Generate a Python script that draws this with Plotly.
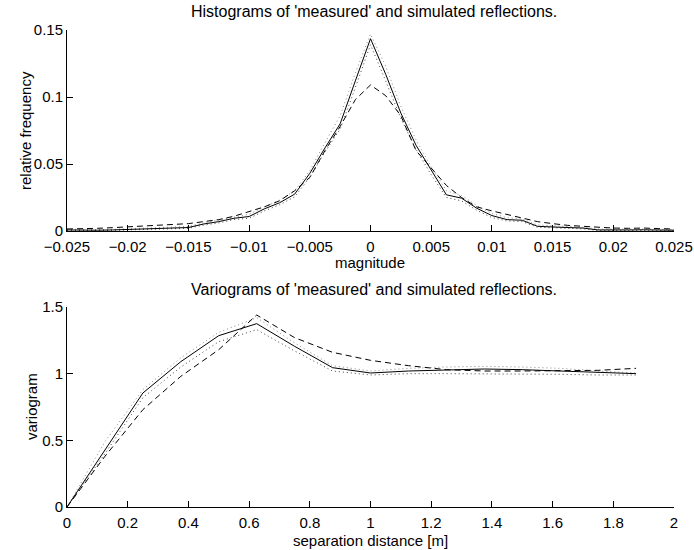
import plotly.graph_objects as go
from plotly.subplots import make_subplots

# ---------------- data ----------------
hist_x = [-0.025, -0.02375, -0.0225, -0.02125, -0.02, -0.01875, -0.0175, -0.01625, -0.015,
          -0.01375, -0.0125, -0.01125, -0.01, -0.00875, -0.0075, -0.00625, -0.005, -0.00375,
          -0.0025, -0.00125, 0.0, 0.00125, 0.0025, 0.00375, 0.005, 0.00625, 0.0075, 0.00875,
          0.01, 0.01125, 0.0125, 0.01375, 0.015, 0.01625, 0.0175, 0.01875, 0.02, 0.02125,
          0.0225, 0.02375, 0.025]
hist_measured = [0.0008, 0.0006, 0.0006, 0.0008, 0.0012, 0.0015, 0.0018, 0.0022, 0.0026,
                 0.0052, 0.0070, 0.0095, 0.0108, 0.0165, 0.0210, 0.0275, 0.0430, 0.0620,
                 0.0800, 0.1120, 0.1435, 0.1170, 0.0880, 0.0640, 0.0450, 0.0270, 0.0245, 0.0170,
                 0.0115, 0.0085, 0.0080, 0.0035, 0.0030, 0.0028, 0.0022, 0.0008, 0.0006, 0.0008,
                 0.0009, 0.0007, 0.0006]
hist_sim_mean = [0.0015, 0.0015, 0.0020, 0.0025, 0.0030, 0.0035, 0.0042, 0.0050, 0.0055,
                 0.0070, 0.0085, 0.0110, 0.0145, 0.0180, 0.0225, 0.0300, 0.0400, 0.0600,
                 0.0780, 0.0980, 0.1090, 0.1010, 0.0860, 0.0600, 0.0470, 0.0340, 0.0250, 0.0180,
                 0.0150, 0.0125, 0.0100, 0.0070, 0.0055, 0.0042, 0.0035, 0.0028, 0.0022, 0.0020,
                 0.0022, 0.0018, 0.0015]
hist_sim_upper = [0.0014, 0.0010, 0.0010, 0.0012, 0.0016, 0.0020, 0.0024, 0.0028, 0.0034,
                  0.0060, 0.0080, 0.0105, 0.0125, 0.0180, 0.0230, 0.0300, 0.0450, 0.0660,
                  0.0860, 0.1180, 0.1470, 0.1230, 0.0930, 0.0680, 0.0480, 0.0300, 0.0265, 0.0190,
                  0.0130, 0.0100, 0.0090, 0.0045, 0.0038, 0.0034, 0.0028, 0.0014, 0.0012, 0.0014,
                  0.0015, 0.0012, 0.0010]
hist_sim_lower = [0.0004, 0.0003, 0.0003, 0.0004, 0.0008, 0.0010, 0.0012, 0.0016, 0.0020,
                  0.0044, 0.0060, 0.0085, 0.0095, 0.0150, 0.0195, 0.0255, 0.0400, 0.0590,
                  0.0760, 0.1070, 0.1390, 0.1120, 0.0840, 0.0610, 0.0420, 0.0250, 0.0225, 0.0155,
                  0.0100, 0.0075, 0.0070, 0.0028, 0.0024, 0.0022, 0.0016, 0.0004, 0.0003, 0.0004,
                  0.0005, 0.0004, 0.0003]

vario_x = [0.0, 0.125, 0.25, 0.375, 0.5, 0.625, 0.75, 0.875, 1.0, 1.125, 1.25, 1.375, 1.5,
           1.625, 1.75, 1.875]
vario_measured = [0.0, 0.43, 0.855, 1.09, 1.285, 1.375, 1.205, 1.045, 1.005, 1.02, 1.03,
                  1.035, 1.03, 1.02, 1.01, 1.0]
vario_sim_mean = [0.0, 0.38, 0.73, 0.98, 1.18, 1.44, 1.27, 1.16, 1.10, 1.06, 1.03, 1.02,
                  1.02, 1.02, 1.025, 1.04]
vario_sim_upper = [0.0, 0.49, 0.88, 1.12, 1.31, 1.42, 1.23, 1.06, 1.02, 1.04, 1.05, 1.055,
                   1.05, 1.04, 1.02, 1.005]
vario_sim_lower = [0.0, 0.40, 0.82, 1.05, 1.24, 1.33, 1.17, 1.02, 0.99, 1.0, 1.0, 1.0,
                   1.0, 0.995, 0.99, 0.99]

hist_xticks = [-0.025, -0.02, -0.015, -0.01, -0.005, 0, 0.005, 0.01, 0.015, 0.02, 0.025]
hist_xtick_text = ["\u22120.025", "\u22120.02", "\u22120.015", "\u22120.01", "\u22120.005", "0",
                   "0.005", "0.01", "0.015", "0.02", "0.025"]
hist_yticks = [0, 0.05, 0.1, 0.15]
hist_ytick_text = ["0", "0.05", "0.1", "0.15"]
vario_xticks = [0, 0.2, 0.4, 0.6, 0.8, 1.0, 1.2, 1.4, 1.6, 1.8, 2.0]
vario_xtick_text = ["0", "0.2", "0.4", "0.6", "0.8", "1", "1.2", "1.4", "1.6", "1.8", "2"]
vario_yticks = [0, 0.5, 1.0, 1.5]
vario_ytick_text = ["0", "0.5", "1", "1.5"]

# ---------------- figure ----------------
W, H = 694, 550
ml, mr, mt, mb = 67, 20, 30, 43
plot_w = W - ml - mr
plot_h = H - mt - mb
top_low = (H - mb - 231) / plot_h
bot_high = (H - mb - 307) / plot_h


def px_x(p):
    return (p - ml) / plot_w


def px_y(p):
    return (H - mb - p) / plot_h


fig = make_subplots(rows=2, cols=1, vertical_spacing=0.0)

FONT = "Liberation Sans, Arial, Helvetica, sans-serif"
FS = 15


def add_set(x, meas, mean, up, lo, row):
    fig.add_trace(go.Scatter(x=x, y=up, mode="lines",
                             line=dict(color="#8a8a8a", width=1, dash="1px,3px"),
                             showlegend=False), row=row, col=1)
    fig.add_trace(go.Scatter(x=x, y=lo, mode="lines",
                             line=dict(color="#444444", width=1, dash="1px,3px"),
                             showlegend=False), row=row, col=1)
    fig.add_trace(go.Scatter(x=x, y=mean, mode="lines",
                             line=dict(color="black", width=1, dash="6px,4px"),
                             showlegend=False), row=row, col=1)
    fig.add_trace(go.Scatter(x=x, y=meas, mode="lines", line=dict(color="black", width=1),
                             showlegend=False), row=row, col=1)


add_set(hist_x, hist_measured, hist_sim_mean, hist_sim_upper, hist_sim_lower, 1)
add_set(vario_x, vario_measured, vario_sim_mean, vario_sim_upper, vario_sim_lower, 2)

axis_common = dict(showline=True, linecolor="black", linewidth=1, mirror=False, ticks="inside",
                   ticklen=6, tickcolor="black", tickwidth=1, showgrid=False, zeroline=False,
                   automargin=False, tickfont=dict(family=FONT, size=FS, color="black"))

fig.update_xaxes(range=[-0.025, 0.025], tickvals=hist_xticks, ticktext=hist_xtick_text,
                 domain=[0, 1], ticklabelstandoff=2, row=1, col=1, **axis_common)
fig.update_yaxes(range=[0, 0.15], tickvals=hist_yticks, ticktext=hist_ytick_text,
                 domain=[top_low, 1], row=1, col=1, **axis_common)
fig.update_xaxes(range=[0, 2], tickvals=vario_xticks, ticktext=vario_xtick_text,
                 domain=[0, 1], ticklabelstandoff=2, row=2, col=1, **axis_common)
fig.update_yaxes(range=[0, 1.5], tickvals=vario_yticks, ticktext=vario_ytick_text,
                 domain=[0, bot_high], row=2, col=1, **axis_common)


def ann(text, xp, yp, angle=0, size=FS):
    return dict(text=text, x=px_x(xp), y=px_y(yp), xref="paper", yref="paper",
                xanchor="center", yanchor="middle", textangle=angle, showarrow=False,
                font=dict(family=FONT, size=size, color="black"))


fig.update_layout(
    width=W, height=H,
    margin=dict(l=ml, r=mr, t=mt, b=mb),
    paper_bgcolor="white", plot_bgcolor="white",
    showlegend=False,
    annotations=[
        ann("Histograms of 'measured' and simulated reflections.", 374, 11, size=16),
        ann("magnitude", 370, 262),
        ann("relative frequency", 25, 131, -90),
        ann("Variograms of 'measured' and simulated reflections.", 374, 289, size=16),
        ann("separation distance [m]", 370, 540),
        ann("variogram", 31, 407, -90),
    ],
)

fig.write_html("out.html")
